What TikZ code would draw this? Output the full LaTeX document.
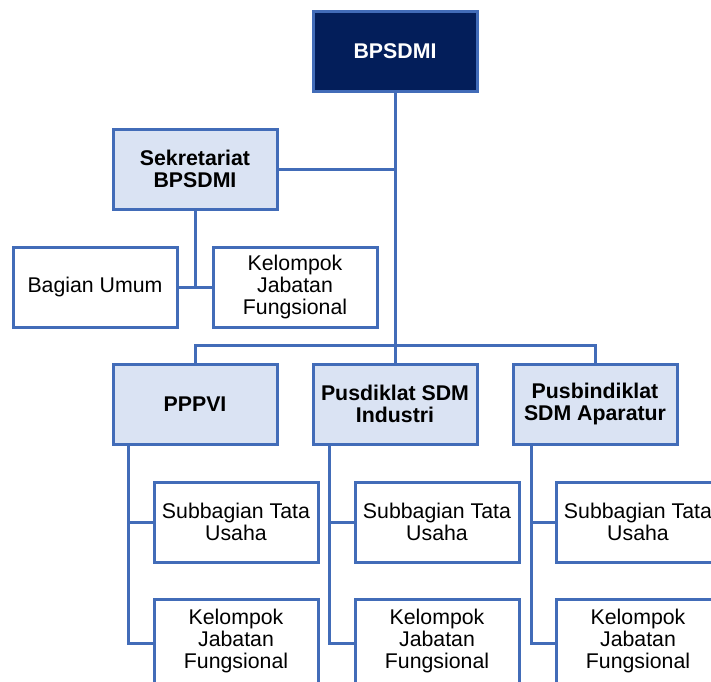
\documentclass[tikz,border=0pt]{standalone}
\usepackage{fontspec}
\setmainfont{Liberation Sans}
\definecolor{lineblue}{RGB}{66,108,184}
\definecolor{navy}{RGB}{3,30,90}
\definecolor{lightblue}{RGB}{218,227,243}
\begin{document}
\begin{tikzpicture}[x=1pt,y=-1pt,
  box/.style={draw=lineblue,line width=3pt,rectangle,minimum width=164pt,minimum height=80pt,
    align=center,inner sep=2pt,font=\fontsize{21.3}{21.8}\selectfont},
  topbox/.style={box,fill=navy,text=white,font=\fontsize{21.3}{21.8}\selectfont\bfseries},
  unitbox/.style={box,fill=lightblue,font=\fontsize{21.3}{21.8}\selectfont\bfseries},
  plainbox/.style={box,fill=white},
  conn/.style={draw=lineblue,line width=3pt}]
\clip (0,0) rectangle (711,681);
\fill[white] (0,0) rectangle (711,681);
% nodes
\node[topbox] (bpsdmi) at (395,51) {BPSDMI};
\node[unitbox] (sek) at (195,169) {Sekretariat\\BPSDMI};
\node[plainbox] (bu) at (95,287) {Bagian Umum};
\node[plainbox] (kjf) at (295,287) {Kelompok\\Jabatan\\Fungsional};
\node[unitbox] (pppvi) at (195,404) {PPPVI};
\node[unitbox] (pusdik) at (395,404) {Pusdiklat SDM\\Industri};
\node[unitbox] (pusbin) at (595,404) {Pusbindiklat\\SDM Aparatur};
\node[plainbox] (sub1) at (236,522) {Subbagian Tata\\Usaha};
\node[plainbox] (sub2) at (437,522) {Subbagian Tata\\Usaha};
\node[plainbox] (sub3) at (638,522) {Subbagian Tata\\Usaha};
\node[plainbox,minimum height=84pt] (kel1) at (236,641) {Kelompok\\Jabatan\\Fungsional};
\node[plainbox,minimum height=84pt] (kel2) at (437,641) {Kelompok\\Jabatan\\Fungsional};
\node[plainbox,minimum height=84pt] (kel3) at (638,641) {Kelompok\\Jabatan\\Fungsional};
\coordinate (bus) at (395,345);
% connectors
\draw[conn] (bpsdmi.south) -- (pusdik.north);
\draw[conn] (sek.east) -- (sek.east -| bpsdmi.south);
\draw[conn] (sek.south) -- (sek.south |- bu.east);
\draw[conn] (bu.east) -- (kjf.west);
\draw[conn] (pppvi.north) |- (bus) -| (pusbin.north);
\draw[conn] ([xshift=-67pt]pppvi.south) |- (sub1.west);
\draw[conn] ([xshift=-67pt]pppvi.south) |- ([yshift=-2pt]kel1.west);
\draw[conn] ([xshift=-66pt]pusdik.south) |- (sub2.west);
\draw[conn] ([xshift=-66pt]pusdik.south) |- ([yshift=-2pt]kel2.west);
\draw[conn] ([xshift=-64pt]pusbin.south) |- (sub3.west);
\draw[conn] ([xshift=-64pt]pusbin.south) |- ([yshift=-2pt]kel3.west);
\end{tikzpicture}
\end{document}
